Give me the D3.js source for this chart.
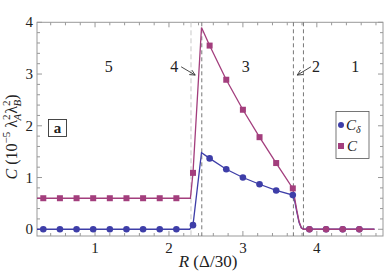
<!DOCTYPE html>
<html>
<head>
<meta charset="utf-8">
<script src="https://cdn.jsdelivr.net/npm/d3@7"></script>
<style>
  body { margin: 0; background: #fff; }
  text { font-family: "Liberation Serif", "DejaVu Serif", serif; fill: #222; }
</style>
</head>
<body>
<div class="chart"></div>
<script>
// sampled points (markers)
var rPts = [0.3, 0.525, 0.75, 0.975, 1.2, 1.425, 1.65, 1.875, 2.1, 2.325,
  2.55, 2.775, 3.0, 3.225, 3.45, 3.675, 3.9, 4.125, 4.35, 4.575];
var cDeltaPts = [0, 0, 0, 0, 0, 0, 0, 0, 0, 0.08,
  1.37, 1.16, 1.0, 0.87, 0.75, 0.66, 0, 0, 0, 0];
var cPts = [0.6, 0.6, 0.6, 0.6, 0.6, 0.6, 0.6, 0.6, 0.6, 1.09,
  3.55, 2.89, 2.31, 1.78, 1.28, 0.79, 0, 0, 0, 0];

// continuous curves
var rCurveD = [0.215, 2.28, 2.325, 2.44, 2.55, 2.775, 3.0, 3.225, 3.45, 3.675, 3.7, 3.73, 3.76, 3.79, 3.82, 4.78];
var cDeltaCurve = [0, 0, 0.08, 1.48, 1.37, 1.16, 1.0, 0.87, 0.75, 0.66, 0.55, 0.33, 0.13, 0.03, 0, 0];
var rCurveC = [0.215, 2.29, 2.325, 2.44, 2.55, 2.775, 3.0, 3.225, 3.45, 3.675, 3.7, 3.73, 3.76, 3.79, 3.82, 4.78];
var cCurve = [0.6, 0.6, 1.09, 3.9, 3.55, 2.89, 2.31, 1.78, 1.28, 0.79, 0.6, 0.36, 0.15, 0.03, 0, 0];

// region boundaries (dashed)
var boundaries = [2.298, 2.444, 3.683, 3.819];
var regionNames = ["5", "4", "3", "2", "1"];
var regionR = [1.185, 2.07, 3.04, 3.99, 4.52];

var xTicks = [1, 2, 3, 4];
var yTicks = [0, 1, 2, 3, 4];

var blue = "#3e3ea8";
var mag = "#a33e7d";

var svgWidth = 390;
var svgHeight = 273;

var svg = d3.select(".chart").append("svg")
  .attr("width", svgWidth)
  .attr("height", svgHeight);

var x = d3.scaleLinear().domain([0.215, 4.895]).range([37, 383]);
var y = d3.scaleLinear().domain([-0.13, 4]).range([236, 22.3]);

var x0 = x.range()[0], x1 = x.range()[1];
var y0 = y.range()[0], y1 = y.range()[1];

// frame
svg.append("rect")
  .attr("x", x0).attr("y", y1)
  .attr("width", x1 - x0).attr("height", y0 - y1)
  .attr("fill", "none").attr("stroke", "#999").attr("stroke-width", 1);

// minor/major ticks, inward on all four sides
var xMinor = d3.range(0.4, 4.9, 0.2);
xMinor.forEach(function(v) {
  var major = Math.abs(v - Math.round(v)) < 1e-6;
  var len = major ? 5 : 3;
  svg.append("line").attr("x1", x(v)).attr("x2", x(v)).attr("y1", y0).attr("y2", y0 - len)
    .attr("stroke", "#999");
  svg.append("line").attr("x1", x(v)).attr("x2", x(v)).attr("y1", y1).attr("y2", y1 + len)
    .attr("stroke", "#999");
});
var yMinor = d3.range(0, 4.01, 0.2);
yMinor.forEach(function(v) {
  var major = Math.abs(v - Math.round(v)) < 1e-6;
  var len = major ? 5 : 3;
  svg.append("line").attr("x1", x0).attr("x2", x0 + len).attr("y1", y(v)).attr("y2", y(v))
    .attr("stroke", "#999");
  svg.append("line").attr("x1", x1).attr("x2", x1 - len).attr("y1", y(v)).attr("y2", y(v))
    .attr("stroke", "#999");
});

// tick labels
svg.selectAll(".xl").data(xTicks).enter().append("text")
  .attr("x", d => x(d)).attr("y", 253)
  .attr("text-anchor", "middle").attr("font-size", 15)
  .text(d => d);
svg.selectAll(".yl").data(yTicks).enter().append("text")
  .attr("x", 33).attr("y", d => y(d) + 5)
  .attr("text-anchor", "end").attr("font-size", 15)
  .text(d => d);

// axis titles
var xt = svg.append("text").attr("x", 208).attr("y", 267)
  .attr("text-anchor", "middle").attr("font-size", 17);
xt.append("tspan").attr("font-style", "italic").text("R");
xt.append("tspan").text(" (Δ/30)");

var yt = svg.append("text")
  .attr("transform", "translate(17,137) rotate(-90)")
  .attr("text-anchor", "middle").attr("font-size", 16);
yt.append("tspan").attr("font-style", "italic").text("C");
yt.append("tspan").text(" (10");
yt.append("tspan").attr("font-size", 11).attr("dy", -7).text("−5");
yt.append("tspan").attr("dy", 7).text(" λ");
yt.append("tspan").attr("font-size", 11).attr("dy", -7).text("2");
yt.append("tspan").attr("font-size", 11).attr("font-style", "italic").attr("dx", -6).attr("dy", 11).text("A");
yt.append("tspan").attr("dy", -4).text("λ");
yt.append("tspan").attr("font-size", 11).attr("dy", -7).text("2");
yt.append("tspan").attr("font-size", 11).attr("font-style", "italic").attr("dx", -6).attr("dy", 11).text("B");
yt.append("tspan").attr("dy", -4).text(")");

// dashed boundaries
boundaries.forEach(function(b, i) {
  svg.append("line")
    .attr("x1", x(b)).attr("x2", x(b)).attr("y1", y1).attr("y2", y0)
    .attr("stroke", i === 0 ? "#c8c8c8" : "#777")
    .attr("stroke-width", 1)
    .attr("stroke-dasharray", i === 0 ? "5,3" : "4,3");
});

// region labels
svg.selectAll(".reg").data(regionNames).enter().append("text")
  .attr("x", (d, i) => x(regionR[i])).attr("y", y(3.16) + 6)
  .attr("text-anchor", "middle").attr("font-size", 16)
  .text(d => d);

// arrows for narrow regions 4 and 2
function arrow(fromR, toR) {
  var ax = x(fromR), ay = y(3.14), bx = x(toR), by = y(2.98);
  svg.append("line").attr("x1", ax).attr("y1", ay).attr("x2", bx).attr("y2", by)
    .attr("stroke", "#333").attr("stroke-width", 0.9);
  var ang = Math.atan2(by - ay, bx - ax);
  var h = 6;
  [0.45, -0.45].forEach(function(da) {
    svg.append("line").attr("x1", bx).attr("y1", by)
      .attr("x2", bx - h * Math.cos(ang + da)).attr("y2", by - h * Math.sin(ang + da))
      .attr("stroke", "#333").attr("stroke-width", 0.9);
  });
}
arrow(2.165, 2.355);
arrow(3.92, 3.735);

// curves
var lineD = d3.line().x((d, i) => x(rCurveD[i])).y(d => y(d));
var lineC = d3.line().x((d, i) => x(rCurveC[i])).y(d => y(d));

svg.append("path").datum(cDeltaCurve).attr("d", lineD)
  .attr("fill", "none").attr("stroke", blue).attr("stroke-width", 1.3);
svg.append("path").datum(cCurve).attr("d", lineC)
  .attr("fill", "none").attr("stroke", mag).attr("stroke-width", 1.3);

// markers
svg.selectAll(".cd").data(cDeltaPts).enter().append("circle")
  .attr("cx", (d, i) => x(rPts[i])).attr("cy", d => y(d))
  .attr("r", 3.3).attr("fill", blue);

cPts.forEach(function(d, i) {
  if (d === cDeltaPts[i]) {
    svg.append("circle").attr("cx", x(rPts[i])).attr("cy", y(d))
      .attr("r", 3.3).attr("fill", mag);
  } else {
    svg.append("rect").attr("x", x(rPts[i]) - 3).attr("y", y(d) - 3)
      .attr("width", 6).attr("height", 6).attr("fill", mag);
  }
});

// panel label
svg.append("rect").attr("x", 48.5).attr("y", 119.5).attr("width", 18).attr("height", 17)
  .attr("fill", "#fff").attr("stroke", "#333").attr("stroke-width", 0.9);
svg.append("text").attr("x", 57.5).attr("y", 132.5)
  .attr("text-anchor", "middle").attr("font-size", 15).attr("font-weight", "bold")
  .text("a");

// legend
svg.append("rect").attr("x", 336).attr("y", 111.5).attr("width", 33).attr("height", 47)
  .attr("fill", "#fff").attr("stroke", "#555").attr("stroke-width", 0.8);
svg.append("circle").attr("cx", 341).attr("cy", 125).attr("r", 3).attr("fill", blue);
var l1 = svg.append("text").attr("x", 346).attr("y", 130).attr("font-size", 15);
l1.append("tspan").attr("font-style", "italic").text("C");
l1.append("tspan").attr("font-style", "italic").attr("font-size", 10).attr("dy", 3).text("δ");
svg.append("rect").attr("x", 338).attr("y", 143).attr("width", 6).attr("height", 6).attr("fill", mag);
svg.append("text").attr("x", 347).attr("y", 151).attr("font-size", 15)
  .attr("font-style", "italic").text("C");
</script>
</body>
</html>
